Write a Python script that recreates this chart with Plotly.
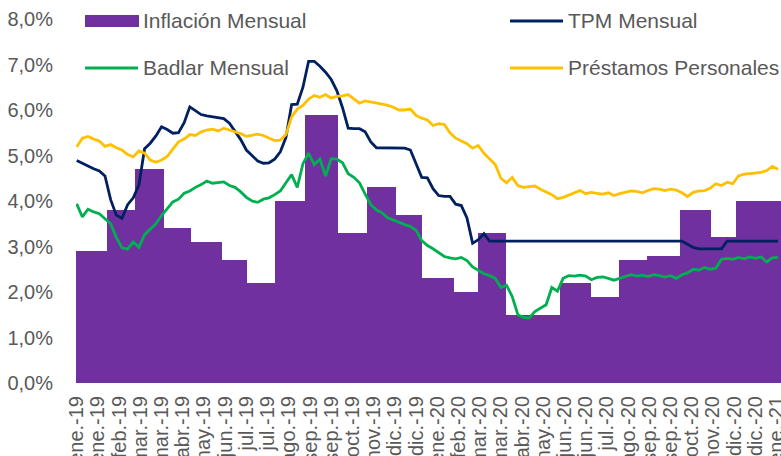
import numpy as np
import plotly.graph_objects as go

# ---------------- data ----------------
tick_labels = ["ene.-19", "ene.-19", "feb.-19", "mar.-19", "mar.-19", "abr.-19", "may.-19",
               "jun.-19", "jul.-19", "jul.-19", "ago.-19", "sep.-19", "sep.-19", "oct.-19",
               "nov.-19", "dic.-19", "dic.-19", "ene.-20", "feb.-20", "mar.-20", "mar.-20",
               "abr.-20", "may.-20", "jun.-20", "jun.-20", "jul.-20", "ago.-20", "sep.-20",
               "sep.-20", "oct.-20", "nov.-20", "dic.-20", "dic.-20", "ene.-21"]

# monthly inflation (%), Jan-2019 .. Jan-2021
inflacion = [2.9, 3.8, 4.7, 3.4, 3.1, 2.7, 2.2, 4.0, 5.9, 3.3, 4.3, 3.7,
             2.3, 2.0, 3.3, 1.5, 1.5, 2.2, 1.9, 2.7, 2.8, 3.8, 3.2, 4.0,
             4.0]
# number of daily observations (trading days) in each month
month_days = [22, 20, 20, 19, 22, 18, 20, 21, 23, 21, 20, 19,
              22, 17, 20, 19, 19, 22, 20, 20, 23, 22, 18, 20,
              20]

# daily series, one reading every 4th observation (%)
tpm = [4.89, 4.83, 4.76, 4.71, 4.66, 4.55, 4.03, 3.69, 3.62, 3.92,
       4.07, 4.35, 5.15, 5.27, 5.43, 5.63, 5.57, 5.49, 5.50, 5.72,
       6.07, 5.98, 5.90, 5.87, 5.85, 5.83, 5.81, 5.71, 5.53, 5.35,
       5.12, 4.99, 4.88, 4.83, 4.84, 4.92, 5.08, 5.40, 6.12, 6.13,
       6.50, 7.07, 7.07, 6.96, 6.83, 6.67, 6.42, 6.05, 5.60, 5.59,
       5.59, 5.52, 5.30, 5.17, 5.17, 5.17, 5.17, 5.17, 5.16, 5.12,
       4.80, 4.52, 4.51, 4.27, 4.12, 4.10, 4.10, 3.93, 3.90, 3.63,
       3.07, 3.15, 3.28, 3.12, 3.12, 3.12, 3.12, 3.12, 3.12, 3.12,
       3.12, 3.12, 3.12, 3.12, 3.12, 3.12, 3.12, 3.12, 3.12, 3.12,
       3.12, 3.12, 3.12, 3.12, 3.12, 3.12, 3.12, 3.12, 3.12, 3.12,
       3.12, 3.12, 3.12, 3.12, 3.12, 3.12, 3.12, 3.12, 3.05, 2.98,
       2.95, 2.95, 2.95, 2.95, 2.95, 3.12, 3.12, 3.12, 3.12, 3.12,
       3.12, 3.12, 3.12, 3.12, 3.12]

badlar = [3.94, 3.65, 3.82, 3.76, 3.72, 3.62, 3.50, 3.20, 2.97, 2.94,
          3.10, 2.98, 3.26, 3.38, 3.50, 3.68, 3.84, 3.98, 4.04, 4.17,
          4.22, 4.30, 4.36, 4.44, 4.39, 4.40, 4.42, 4.34, 4.30, 4.20,
          4.08, 4.00, 3.97, 4.04, 4.07, 4.14, 4.22, 4.40, 4.58, 4.30,
          4.82, 5.05, 4.80, 4.92, 4.55, 4.93, 4.92, 4.84, 4.60, 4.52,
          4.40, 4.15, 3.92, 3.80, 3.74, 3.63, 3.58, 3.52, 3.48, 3.44,
          3.36, 3.13, 3.02, 2.95, 2.86, 2.78, 2.75, 2.73, 2.76, 2.69,
          2.55, 2.47, 2.40, 2.36, 2.30, 2.10, 2.15, 1.90, 1.50, 1.44,
          1.43, 1.57, 1.65, 1.72, 2.10, 2.02, 2.30, 2.36, 2.35, 2.37,
          2.35, 2.27, 2.32, 2.33, 2.30, 2.26, 2.30, 2.34, 2.38, 2.35,
          2.37, 2.34, 2.38, 2.36, 2.33, 2.36, 2.30, 2.38, 2.42, 2.50,
          2.48, 2.54, 2.50, 2.52, 2.72, 2.74, 2.72, 2.76, 2.73, 2.77,
          2.74, 2.77, 2.66, 2.75, 2.76]

prestamos = [5.19, 5.38, 5.42, 5.36, 5.32, 5.20, 5.24, 5.17, 5.12, 5.02,
             4.97, 5.10, 5.05, 4.90, 4.85, 4.90, 4.98, 5.15, 5.30, 5.36,
             5.46, 5.44, 5.52, 5.56, 5.58, 5.54, 5.60, 5.56, 5.52, 5.48,
             5.42, 5.45, 5.47, 5.44, 5.38, 5.33, 5.34, 5.46, 5.85, 6.02,
             6.10, 6.24, 6.32, 6.28, 6.34, 6.26, 6.30, 6.31, 6.34, 6.24,
             6.15, 6.20, 6.18, 6.16, 6.13, 6.10, 6.06, 6.00, 6.00, 6.02,
             5.88, 5.82, 5.78, 5.66, 5.70, 5.68, 5.50, 5.38, 5.32, 5.26,
             5.16, 5.22, 5.05, 4.92, 4.80, 4.50, 4.40, 4.52, 4.34, 4.30,
             4.32, 4.33, 4.26, 4.20, 4.14, 4.05, 4.08, 4.13, 4.18, 4.23,
             4.16, 4.19, 4.17, 4.15, 4.18, 4.12, 4.16, 4.19, 4.22, 4.21,
             4.18, 4.23, 4.27, 4.26, 4.23, 4.26, 4.24, 4.18, 4.10, 4.19,
             4.22, 4.23, 4.28, 4.38, 4.34, 4.41, 4.38, 4.55, 4.59, 4.60,
             4.61, 4.63, 4.67, 4.76, 4.70]

# ---------------- derived positions ----------------
SAMPLE_STEP = 4
LABEL_EVERY = 15
edges = np.concatenate([[0], np.cumsum(month_days)]) - 0.5
bar_x = (edges[:-1] + edges[1:]) / 2
bar_w = np.diff(edges)
line_x = np.arange(len(tpm)) * SAMPLE_STEP
tick_x = np.arange(len(tick_labels)) * LABEL_EVERY

# ---------------- styling ----------------
W, H = 781, 456
ML, MR, MT, MB = 76, 0, 19, 73
PW, PH = W - ML - MR, H - MT - MB
GRAY = "#595959"
FONT = "Liberation Sans, Arial, sans-serif"
C_INF, C_TPM, C_BAD, C_PRE = "#7030A0", "#002060", "#00B050", "#FFC000"

fig = go.Figure()
fig.add_trace(go.Bar(x=bar_x, y=inflacion, width=bar_w, name="Inflación Mensual",
                     marker=dict(color=C_INF, line=dict(width=0)), showlegend=False))
fig.add_trace(go.Scatter(x=line_x, y=tpm, mode="lines", name="TPM Mensual",
                         line=dict(color=C_TPM, width=2.8), showlegend=False))
fig.add_trace(go.Scatter(x=line_x, y=badlar, mode="lines", name="Badlar Mensual",
                         line=dict(color=C_BAD, width=2.8), showlegend=False))
fig.add_trace(go.Scatter(x=line_x, y=prestamos, mode="lines", name="Préstamos Personales",
                         line=dict(color=C_PRE, width=2.8), showlegend=False))


def fx(px):
    return (px - ML) / PW


def fy(py):
    return (MT + PH - py) / PH


# custom legend (2 x 2 grid, as in the reference)
legend_items = [("Inflación Mensual", C_INF, "bar", 85, 21),
                ("TPM Mensual", C_TPM, "line", 510, 21),
                ("Badlar Mensual", C_BAD, "line", 85, 68),
                ("Préstamos Personales", C_PRE, "line", 510, 68)]
shapes, annotations = [], []
for text, color, kind, sx, sy in legend_items:
    if kind == "bar":
        shapes.append(dict(type="rect", xref="paper", yref="paper",
                           x0=fx(sx), x1=fx(sx + 54), y0=fy(sy + 6), y1=fy(sy - 6),
                           fillcolor=color, line=dict(width=0)))
    else:
        shapes.append(dict(type="line", xref="paper", yref="paper",
                           x0=fx(sx), x1=fx(sx + 53), y0=fy(sy), y1=fy(sy),
                           line=dict(color=color, width=3)))
    annotations.append(dict(text=text, xref="paper", yref="paper", x=fx(sx + 56), y=fy(sy),
                            xanchor="left", yanchor="middle", showarrow=False,
                            font=dict(size=21, color=GRAY, family=FONT)))

fig.update_layout(
    template="none",
    width=W, height=H, autosize=False,
    margin=dict(l=ML, r=MR, t=MT, b=MB, pad=0),
    paper_bgcolor="white", plot_bgcolor="white",
    separators=",.",
    bargap=0,
    hovermode=False,
    shapes=shapes, annotations=annotations,
    font=dict(family=FONT, color=GRAY),
    xaxis=dict(range=[-0.5, 498.1], tickmode="array", tickvals=tick_x, ticktext=tick_labels,
               tickangle=-90, tickfont=dict(size=20, color=GRAY, family=FONT),
               showgrid=False, zeroline=False, showline=False, ticks="",
               ticklabelstandoff=8, ticklabeloverflow="allow", automargin=False),
    yaxis=dict(range=[0, 8], tick0=0, dtick=1, tickformat=".1f", ticksuffix="%",
               tickfont=dict(size=20, color=GRAY, family=FONT),
               showgrid=False, zeroline=False, showline=False, ticks="",
               ticklabelstandoff=22, automargin=False),
)

fig.write_html("out.html",
               config={"displayModeBar": False, "staticPlot": True},
               post_script="document.body.style.margin='0';"
                           "document.body.style.overflow='hidden';")
